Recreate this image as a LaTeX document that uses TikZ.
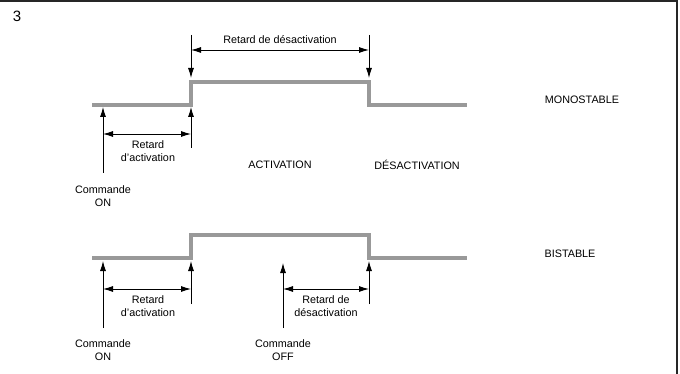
\documentclass[tikz,border=0pt]{standalone}
\usepackage{fontspec}
\setmainfont{Liberation Sans}
\usetikzlibrary{arrows.meta}

\tikzstyle{frame}=[draw,line width=1.2pt,black!85]
\tikzstyle{signal}=[draw,line width=3.2pt,black!40]
\tikzstyle{marker}=[draw,line width=0.9pt,-{Latex[length=10pt,width=6pt]}]
\tikzstyle{span}=[draw,line width=0.9pt,{Latex[length=10pt,width=6pt]}-{Latex[length=10pt,width=6pt]}]
\tikzstyle{txt}=[font=\fontsize{10.8}{12.5}\selectfont,align=center,inner sep=0pt]
\tikzstyle{title}=[font=\fontsize{15}{16}\selectfont,inner sep=0pt]

\begin{document}
\begin{tikzpicture}[x=1pt,y=-1pt]
	\useasboundingbox (0,0) rectangle (680,374);
	\draw[frame] (0,1) -- (677,1) -- (677,374);
	\node[title] (num) at (17,16) {3};

	% Monostable
	\path[signal] (92,105) -- (191,105) -- (191,82) -- (369,82) -- (369,105) -- (467,105);
	\coordinate (mt1) at (191,35);
	\coordinate (mt2) at (369,35);
	\coordinate (mh1) at (191,78);
	\coordinate (mh2) at (369,78);
	\coordinate (md1) at (191,50);
	\coordinate (md2) at (369,50);
	\coordinate (mon) at (103,173);
	\coordinate (mact) at (191,148);
	\coordinate (mlon) at (103,107);
	\coordinate (mlact) at (191,107);
	\coordinate (ma1) at (103,134);
	\coordinate (ma2) at (191,134);
	\foreach \source/ \dest in {mt1/mh1, mt2/mh2, mon/mlon, mact/mlact}
		\path[marker] (\source) to (\dest);
	\path[span] (md1) -- (md2);
	\path[span] (ma1) -- (ma2);
	\node[txt] (mdes) at (280,40) {Retard de désactivation};
	\node[txt] (mret) at (148,151) {Retard\\d’activation};
	\node[txt] (mcmd) at (103,196) {Commande\\ON};
	\node[txt] (act) at (280,165) {ACTIVATION};
	\node[txt] (desact) at (417,165) {DÉSACTIVATION};
	\node[txt] (mono) at (582,100) {MONOSTABLE};

	% Bistable
	\path[signal] (92,258) -- (191,258) -- (191,235) -- (369,235) -- (369,258) -- (467,258);
	\coordinate (bon) at (103,328);
	\coordinate (bact) at (191,304);
	\coordinate (boff) at (283,328);
	\coordinate (bdes) at (369,304);
	\coordinate (blon) at (103,261);
	\coordinate (blact) at (191,261);
	\coordinate (bloff) at (283,263);
	\coordinate (bldes) at (369,261);
	\coordinate (ba1) at (103,289);
	\coordinate (ba2) at (191,289);
	\coordinate (bd1) at (283,289);
	\coordinate (bd2) at (369,289);
	\foreach \source/ \dest in {bon/blon, bact/blact, boff/bloff, bdes/bldes}
		\path[marker] (\source) to (\dest);
	\path[span] (ba1) -- (ba2);
	\path[span] (bd1) -- (bd2);
	\node[txt] (bret) at (148,306) {Retard\\d’activation};
	\node[txt] (bretd) at (326,306) {Retard de\\désactivation};
	\node[txt] (bcmdon) at (103,350) {Commande\\ON};
	\node[txt] (bcmdoff) at (283,350) {Commande\\OFF};
	\node[txt] (bi) at (570,254) {BISTABLE};
\end{tikzpicture}
\end{document}
